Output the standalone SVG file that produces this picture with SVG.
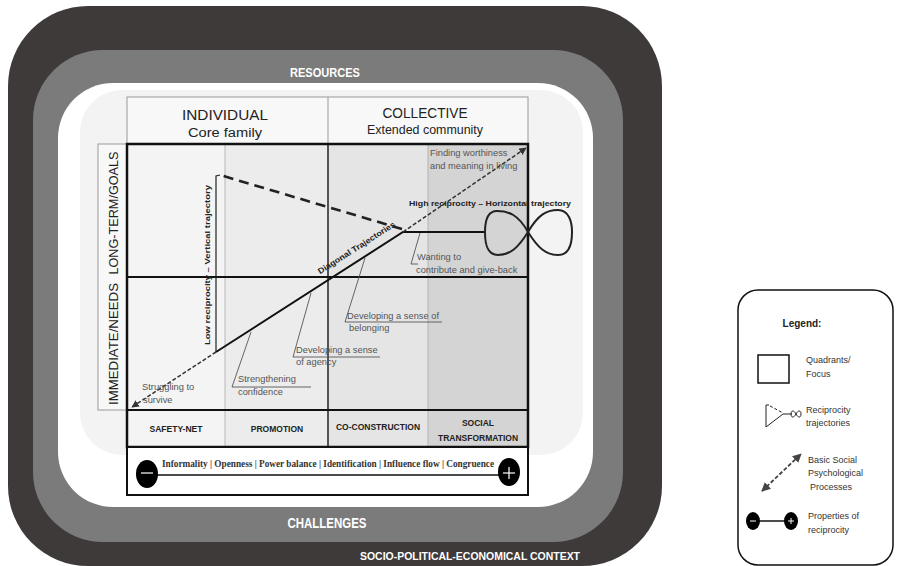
<svg xmlns="http://www.w3.org/2000/svg" width="899" height="566" viewBox="0 0 899 566">
<style>
text{font-family:"Liberation Sans","DejaVu Sans",sans-serif}
text.serif{font-family:"Liberation Serif","DejaVu Serif",serif}
.band{font-weight:bold;fill:#fff}
.hd{fill:#222}
.cap{font-size:9.3px;fill:#555}
.bold{font-weight:bold;fill:#222}
.lead{stroke:#555;stroke-width:0.9;fill:none}
.lg{font-size:9px;fill:#333}
</style>
<defs>
<marker id="ah" viewBox="0 0 10 10" refX="9" refY="5" markerWidth="5" markerHeight="5" orient="auto-start-reverse"><path d="M0,0 L10,5 L0,10 z" fill="#333"/></marker>
<marker id="ah2" viewBox="0 0 10 10" refX="9" refY="5" markerWidth="5" markerHeight="5" orient="auto-start-reverse"><path d="M0,0 L10,5 L0,10 z" fill="#444"/></marker>
</defs>
<rect width="899" height="566" fill="#fff"/>

<g id="context">
<rect x="8" y="6" width="654" height="560" rx="80" fill="#3d3a39"/>
<text class="band" x="470" y="560" font-size="11" text-anchor="middle" textLength="220" lengthAdjust="spacingAndGlyphs">SOCIO-POLITICAL-ECONOMICAL CONTEXT</text>
</g>
<g id="resources">
<rect x="33" y="50" width="590" height="492" rx="70" fill="#7b7b7b"/>
<text class="band" x="325" y="77" font-size="13" text-anchor="middle" textLength="70" lengthAdjust="spacingAndGlyphs">RESOURCES</text>
<text class="band" x="327" y="528" font-size="15" text-anchor="middle" textLength="79" lengthAdjust="spacingAndGlyphs">CHALLENGES</text>
</g>
<g id="inner">
<rect x="58" y="83" width="535" height="424" rx="55" fill="#fff"/>
<rect x="80" y="90" width="503" height="365" rx="42" fill="#f3f3f3"/>
</g>

<g id="header">
<rect x="127" y="97" width="401" height="47" fill="#f8f8f8" stroke="#999" stroke-width="1"/>
<line x1="328" y1="97" x2="328" y2="144" stroke="#999"/>
<text class="hd" x="225" y="120" font-size="15.5" text-anchor="middle" textLength="86" lengthAdjust="spacingAndGlyphs">INDIVIDUAL</text>
<text class="hd" x="225" y="137" font-size="12" text-anchor="middle" textLength="74" lengthAdjust="spacingAndGlyphs">Core family</text>
<text class="hd" x="425" y="118" font-size="15.5" text-anchor="middle" textLength="85" lengthAdjust="spacingAndGlyphs">COLLECTIVE</text>
<text class="hd" x="425" y="134" font-size="12" text-anchor="middle" textLength="116" lengthAdjust="spacingAndGlyphs">Extended community</text>
</g>

<g id="rowlabels">
<rect x="98" y="144" width="29" height="266" fill="#f8f8f8" stroke="#999" stroke-width="1"/>
<text class="hd" transform="translate(118,213) rotate(-90)" font-size="13" text-anchor="middle" textLength="123" lengthAdjust="spacingAndGlyphs">LONG-TERM/GOALS</text>
<text class="hd" transform="translate(118,344) rotate(-90)" font-size="13" text-anchor="middle" textLength="122" lengthAdjust="spacingAndGlyphs">IMMEDIATE/NEEDS</text>
</g>

<g id="quadrants">
<rect x="127" y="144" width="98" height="303" fill="#f4f4f4"/>
<rect x="225" y="144" width="103" height="303" fill="#ececec"/>
<rect x="328" y="144" width="100" height="303" fill="#e5e5e5"/>
<rect x="428" y="144" width="100" height="303" fill="#d4d4d4"/>
<line x1="225" y1="144" x2="225" y2="447" stroke="#aaa" stroke-width="0.8"/>
<line x1="428" y1="144" x2="428" y2="447" stroke="#aaa" stroke-width="0.8"/>
<line x1="328" y1="144" x2="328" y2="447" stroke="#222" stroke-width="1.5"/>
<line x1="127" y1="277" x2="528" y2="277" stroke="#111" stroke-width="1.8"/>
<line x1="127" y1="410" x2="528" y2="410" stroke="#111" stroke-width="1.8"/>
<rect x="127" y="144" width="401" height="303" fill="none" stroke="#111" stroke-width="2.5"/>
</g>

<g id="approaches">
<text class="bold" x="176" y="432" font-size="8.5" text-anchor="middle">SAFETY-NET</text>
<text class="bold" x="277" y="432" font-size="8.5" text-anchor="middle">PROMOTION</text>
<text class="bold" x="378" y="430" font-size="8.5" text-anchor="middle">CO-CONSTRUCTION</text>
<text class="bold" x="478" y="426" font-size="8.5" text-anchor="middle">SOCIAL</text>
<text class="bold" x="478" y="441" font-size="8.5" text-anchor="middle">TRANSFORMATION</text>
</g>

<g id="properties">
<rect x="127" y="447" width="401" height="48" fill="#fff" stroke="#111" stroke-width="2"/>
<line x1="147" y1="475" x2="509" y2="475" stroke="#111" stroke-width="1.5"/>
<ellipse cx="147" cy="474" rx="11" ry="14" fill="#000"/>
<line x1="141" y1="473" x2="153" y2="473" stroke="#fff" stroke-width="1.2"/>
<ellipse cx="509" cy="472" rx="11" ry="14" fill="#000"/>
<line x1="503" y1="473" x2="515" y2="473" stroke="#fff" stroke-width="1.2"/>
<line x1="509" y1="467" x2="509" y2="479" stroke="#fff" stroke-width="1.2"/>
<text class="serif" x="162" y="467" font-weight="bold" font-size="10.5" fill="#333" textLength="332" lengthAdjust="spacingAndGlyphs">Informality | Openness | Power balance | Identification | Influence flow | Congruence</text>
</g>

<g id="connectors">
<path d="M220,175 L216,176 L216,352" fill="none" stroke="#222" stroke-width="1.2"/>
<path d="M402,229 L220,175" fill="none" stroke="#222" stroke-width="2.6" stroke-dasharray="10,6"/>
<path d="M216,352 L403,232 L486,232" fill="none" stroke="#111" stroke-width="2"/>
<path d="M528,232 C518,214 508,211 497,211 C487,211 485,222 485,232 C485,244 487,255 498,255 C510,255 518,248 528,232 C538,215 546,210 558,210 C569,210 572,222 572,232 C572,244 569,255 558,255 C546,255 538,248 528,232 Z" fill="none" stroke="#222" stroke-width="2"/>
<line x1="216" y1="352" x2="132" y2="407" stroke="#333" stroke-width="1.5" stroke-dasharray="4,2" marker-end="url(#ah)"/>
<line x1="403" y1="232" x2="526" y2="148" stroke="#333" stroke-width="1.5" stroke-dasharray="4,2" marker-end="url(#ah)"/>
<path class="lead" d="M420,233 L411,264 L418,264"/>
<path class="lead" d="M365,258 L345,322 L442,322"/>
<path class="lead" d="M311,293 L293,357 L380,357"/>
<path class="lead" d="M251,332 L232,387 L311,387"/>
</g>

<g id="labels">
<text class="bold" transform="translate(210,265) rotate(-90)" font-size="8" text-anchor="middle" textLength="160" lengthAdjust="spacingAndGlyphs">Low reciprocity – Vertical trajectory</text>
<text class="bold" transform="translate(358,250) rotate(-32.5)" font-size="8" text-anchor="middle" textLength="90" lengthAdjust="spacingAndGlyphs">Diagonal Trajectories</text>
<text class="bold" x="409" y="206" font-size="8" textLength="162" lengthAdjust="spacingAndGlyphs">High reciprocity – Horizontal trajectory</text>
<text class="cap" x="430" y="156">Finding worthiness</text>
<text class="cap" x="430" y="169">and meaning in living</text>
<text class="cap" x="417" y="260">Wanting to</text>
<text class="cap" x="416" y="273">contribute  and give-back</text>
<text class="cap" x="347" y="319">Developing a sense of</text>
<text class="cap" x="349" y="331">belonging</text>
<text class="cap" x="296" y="353">Developing a sense</text>
<text class="cap" x="296" y="365">of agency</text>
<text class="cap" x="238" y="382">Strengthening</text>
<text class="cap" x="238" y="395">confidence</text>
<text class="cap" x="142" y="390">Struggling to</text>
<text class="cap" x="143" y="403">survive</text>
</g>

<g id="legend">
<rect x="738" y="290" width="155" height="275" rx="20" fill="#fff" stroke="#111" stroke-width="1.5"/>
<text x="802" y="327" font-size="10" font-weight="bold" fill="#222" text-anchor="middle">Legend:</text>
<rect x="758" y="355" width="31" height="28" fill="#fff" stroke="#111" stroke-width="1.5"/>
<text class="lg" x="806" y="363">Quadrants/</text>
<text class="lg" x="806" y="377">Focus</text>
<path d="M769,405 L766,405 L766,427 L783,414 L792,414" fill="none" stroke="#222" stroke-width="1"/>
<path d="M770,406 L783,413" fill="none" stroke="#222" stroke-width="1" stroke-dasharray="3,2"/>
<path d="M796,414 C794,410 791,410 791,414 C791,418 794,418 796,414 C798,410 801,410 801,414 C801,418 798,418 796,414 Z" fill="none" stroke="#222" stroke-width="1"/>
<text class="lg" x="806" y="413">Reciprocity</text>
<text class="lg" x="806" y="426">trajectories</text>
<line x1="762" y1="491" x2="801" y2="454" stroke="#444" stroke-width="1.8" stroke-dasharray="4,2" marker-start="url(#ah2)" marker-end="url(#ah2)"/>
<text class="lg" x="808" y="463">Basic Social</text>
<text class="lg" x="808" y="476">Psychological</text>
<text class="lg" x="810" y="490">Processes</text>
<line x1="753" y1="521" x2="791" y2="521" stroke="#111" stroke-width="1.5"/>
<ellipse cx="753" cy="521" rx="7" ry="9" fill="#000"/>
<ellipse cx="791" cy="521" rx="7" ry="9" fill="#000"/>
<line x1="750" y1="521" x2="756" y2="521" stroke="#fff" stroke-width="1"/>
<line x1="788" y1="521" x2="794" y2="521" stroke="#fff" stroke-width="1"/>
<line x1="791" y1="518" x2="791" y2="524" stroke="#fff" stroke-width="1"/>
<text class="lg" x="808" y="519">Properties of</text>
<text class="lg" x="808" y="533">reciprocity</text>
</g>
</svg>
